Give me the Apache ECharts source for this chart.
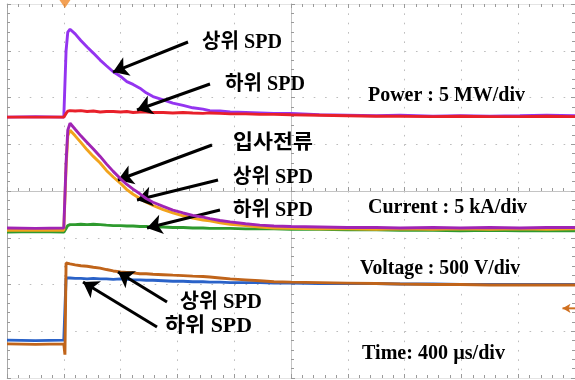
<!DOCTYPE html>
<html><head><meta charset="utf-8">
<script src="https://cdn.jsdelivr.net/npm/echarts@6/dist/echarts.min.js"></script>
<style>html,body{margin:0;padding:0;background:#fff}#c{width:575px;height:380px}</style>
</head><body><div id="c"></div>
<script>
// time in divisions (400 µs/div), centre of screen = 0
const time = [-5,-4.5,-4.0,-3.98,-3.96,-3.93,-3.89,-3.8,-3.7,-3.59,-3.48,-3.36,-3.25,-3.13,-3.0,-2.89,-2.78,-2.66,-2.55,-2.43,-2.25,-2.08,-1.9,-1.73,-1.55,-1.43,-1.25,-1.07,-0.8,-0.55,-0.3,0,0.5,0.99,1.5,1.92,2.5,2.98,3.5,4.03,4.5,5];
// vertical values in screen divisions (centre = 0)
const powerUpper = [1.58,1.59,1.58,1.60,3.00,3.40,3.46,3.36,3.22,3.08,2.95,2.80,2.68,2.55,2.45,2.34,2.28,2.20,2.10,2.02,1.95,1.88,1.83,1.78,1.75,1.72,1.71,1.69,1.68,1.67,1.66,1.66,1.63,1.62,1.61,1.62,1.60,1.61,1.60,1.61,1.62,1.61];
const powerLower = [1.58,1.58,1.58,1.58,1.66,1.71,1.72,1.71,1.72,1.70,1.71,1.69,1.70,1.70,1.69,1.70,1.68,1.69,1.69,1.68,1.68,1.67,1.68,1.67,1.66,1.67,1.66,1.65,1.65,1.64,1.64,1.63,1.62,1.61,1.60,1.60,1.59,1.60,1.59,1.59,1.60,1.59];
const currentIncident = [-0.79,-0.80,-0.79,-0.79,0.60,1.30,1.45,1.32,1.18,1.04,0.90,0.74,0.58,0.42,0.26,0.14,0.04,-0.06,-0.16,-0.24,-0.33,-0.41,-0.47,-0.52,-0.56,-0.59,-0.63,-0.66,-0.70,-0.73,-0.75,-0.76,-0.77,-0.78,-0.78,-0.79,-0.78,-0.79,-0.78,-0.79,-0.78,-0.78];
const currentUpper = [-0.84,-0.84,-0.84,-0.84,0.50,1.18,1.30,1.18,1.04,0.88,0.74,0.60,0.44,0.30,0.16,0.03,-0.07,-0.16,-0.24,-0.31,-0.40,-0.47,-0.53,-0.58,-0.62,-0.64,-0.68,-0.71,-0.74,-0.77,-0.79,-0.80,-0.81,-0.81,-0.82,-0.81,-0.82,-0.81,-0.82,-0.81,-0.82,-0.81];
const currentLower = [-0.88,-0.87,-0.88,-0.88,-0.80,-0.74,-0.72,-0.72,-0.71,-0.72,-0.71,-0.72,-0.73,-0.74,-0.74,-0.75,-0.75,-0.76,-0.76,-0.77,-0.77,-0.78,-0.78,-0.79,-0.79,-0.80,-0.80,-0.80,-0.81,-0.81,-0.81,-0.82,-0.82,-0.83,-0.83,-0.84,-0.84,-0.85,-0.84,-0.85,-0.85,-0.85];
const voltageUpper = [-3.27,-3.28,-3.27,-3.50,-1.54,-1.54,-1.56,-1.58,-1.60,-1.61,-1.63,-1.65,-1.68,-1.71,-1.73,-1.74,-1.75,-1.77,-1.77,-1.78,-1.79,-1.80,-1.81,-1.82,-1.83,-1.84,-1.86,-1.88,-1.90,-1.92,-1.94,-1.95,-1.96,-1.97,-1.98,-1.99,-2.00,-2.00,-2.01,-2.01,-2.01,-2.01];
const voltageLower = [-3.19,-3.20,-3.19,-3.19,-1.86,-1.87,-1.86,-1.87,-1.87,-1.88,-1.87,-1.88,-1.88,-1.89,-1.88,-1.89,-1.90,-1.90,-1.91,-1.91,-1.92,-1.93,-1.93,-1.94,-1.94,-1.95,-1.95,-1.96,-1.96,-1.96,-1.97,-1.97,-1.98,-1.98,-1.98,-1.99,-1.99,-2.00,-2.00,-2.00,-2.00,-2.00];
// annotation arrows [fromX, fromY, toX, toY] in divisions
const arrows = [[-1.813,3.187,-3.134,2.545],[-1.426,2.289,-2.711,1.733],[-1.391,0.984,-3.046,0.235],[-1.285,0.235,-2.711,-0.193],[-1.25,-0.406,-2.535,-0.791],[-2.183,-2.374,-3.046,-1.733],[-2.359,-2.909,-3.662,-1.947]];
const triggerPoint = [-3.98, 4];
const groundMarker = [[4.78, -2.51],[5, -2.51]];
const labelTexts = ['상위 SPD','하위 SPD','Power : 5 MW/div','입사전류','상위 SPD','하위 SPD','Current : 5 kA/div','Voltage : 500 V/div','상위 SPD','하위 SPD','Time: 400 µs/div'];

const labelBoxes = [[202,282,43],[225,305,85],[368,525,96],[233,313,143.5],[233,313,177.5],[233,313,211],[368,527,208],[360,520,269],[180,262,303],[165,252,327],[362,505,354]];
const FONT_FAMILY = '"Liberation Serif", "Noto Sans CJK KR", serif';
const FONT_SIZE = 20;

const pair = (arr) => time.map((t, i) => [t, arr[i]]);

const tickColor = '#9a9a9a';
const gridDot = '#bcbcbc';
function xAx(extra) {
  return Object.assign({
    type: 'value', min: -5, max: 5, interval: 1,
    axisLabel: { show: false },
    axisLine: { show: true, onZero: true, lineStyle: { color: '#c4c4c4', width: 1 } },
    axisTick: { show: true, inside: true, length: 4, lineStyle: { color: tickColor } },
    minorTick: { show: true, splitNumber: 5, length: 3, lineStyle: { color: tickColor } },
    splitLine: { show: false }
  }, extra);
}
function yAx(extra) {
  return Object.assign({
    type: 'value', min: -4, max: 4, interval: 1,
    axisLabel: { show: false },
    axisLine: { show: true, onZero: true, lineStyle: { color: '#c4c4c4', width: 1 } },
    axisTick: { show: true, inside: true, length: 4, lineStyle: { color: tickColor } },
    minorTick: { show: true, splitNumber: 5, length: 3, lineStyle: { color: tickColor } },
    splitLine: { show: false }
  }, extra);
}

function line(name, arr, color, z) {
  return {
    name, type: 'line', data: pair(arr), showSymbol: false, symbol: 'none',
    lineStyle: { color, width: 2.9 }, itemStyle: { color }, z: z || 2, animation: false, silent: true
  };
}

const chart = echarts.init(document.getElementById('c'), null, { renderer: 'canvas' });

const ctx = document.createElement('canvas').getContext('2d');
ctx.font = 'bold ' + FONT_SIZE + 'px ' + FONT_FAMILY;
const graphics = labelTexts.map((t, i) => {
  const b = labelBoxes[i];
  const w = ctx.measureText(t).width;
  return {
    type: 'text', x: b[0], y: b[2], scaleX: (b[1] - b[0]) / w, z: 100, silent: true,
    style: { text: t, fontSize: FONT_SIZE, fontWeight: 'bold', fontFamily: FONT_FAMILY,
      fill: '#000', textAlign: 'left', textVerticalAlign: 'middle', align: 'left', verticalAlign: 'middle' }
  };
});

chart.setOption({
  animation: false,
  backgroundColor: '#fff',
  grid: { left: 7, right: 0, top: 4, bottom: 2, containLabel: false },
  xAxis: [
    xAx({ splitLine: { show: true, lineStyle: { color: gridDot, type: [1.6, 7.75], width: 1 } } }),
    xAx({ axisTick: { show: true, inside: false, length: 4, lineStyle: { color: tickColor } } }),
    xAx({ position: 'top', axisLine: { show: true, onZero: false, lineStyle: { color: '#e4e4e4' } } }),
    xAx({ position: 'bottom', axisLine: { show: true, onZero: false, lineStyle: { color: '#e4e4e4' } } })
  ],
  yAxis: [
    yAx({ splitLine: { show: true, lineStyle: { color: gridDot, type: [1.6, 9.76], width: 1 } } }),
    yAx({ axisTick: { show: true, inside: false, length: 4, lineStyle: { color: tickColor } } }),
    yAx({ position: 'left', axisLine: { show: true, onZero: false, lineStyle: { color: '#a8a8a8' } } }),
    yAx({ position: 'right', axisLine: { show: true, onZero: false, lineStyle: { color: '#e4e4e4' } } })
  ],
  series: [
    line('Power 상위 SPD', powerUpper, '#9434f0', 3),
    line('Power 하위 SPD', powerLower, '#e8202a', 4),
    line('Current 하위 SPD', currentLower, '#2e9a2e', 3),
    line('Current 상위 SPD', currentUpper, '#f2a31c', 4),
    line('Current 입사전류', currentIncident, '#a024b4', 5),
    line('Voltage 하위 SPD', voltageLower, '#2a62c8', 3),
    line('Voltage 상위 SPD', voltageUpper, '#c0641a', 4),
    {
      type: 'scatter', data: [triggerPoint], symbol: 'triangle', symbolRotate: 180,
      symbolSize: [11, 8], symbolOffset: [0, 0], itemStyle: { color: '#f08a2a' }, clip: false, silent: true, z: 6
    },
    {
      type: 'line', silent: true, z: 6, clip: false,
      data: [{ value: groundMarker[0], symbol: 'arrow', symbolSize: [7, 8], symbolRotate: 90 }, { value: groundMarker[1], symbol: 'none' }],
      lineStyle: { color: '#d07020', width: 2 }, itemStyle: { color: '#d07020' }
    },
    {
      type: 'line', data: [], silent: true, z: 10,
      markLine: {
        silent: true, animation: false, symbol: ['none', 'arrow'], symbolSize: 15,
        lineStyle: { color: '#000', width: 3, type: 'solid' }, label: { show: false },
        emphasis: { disabled: true },
        data: arrows.map(a => [{ coord: [a[0], a[1]] }, { coord: [a[2], a[3]] }])
      }
    }
  ],
  graphic: graphics
});
</script>
</body></html>
